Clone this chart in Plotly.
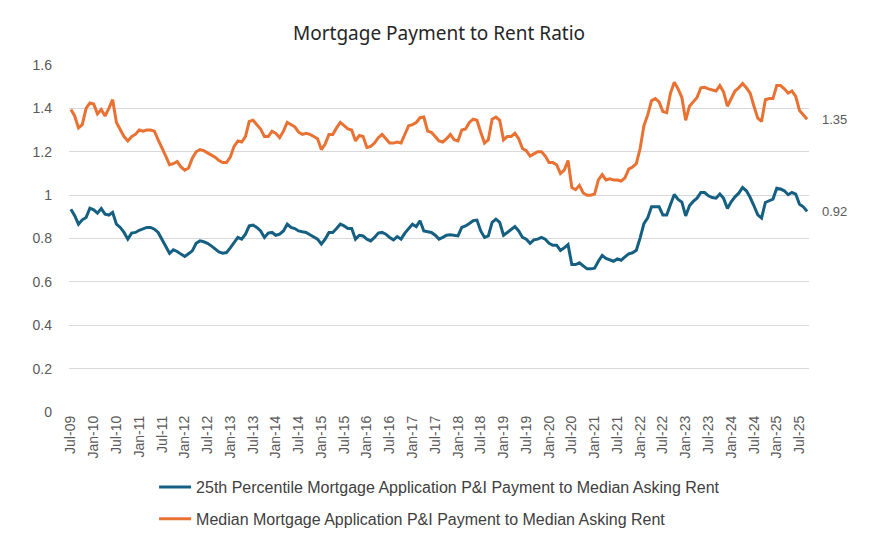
import plotly.graph_objects as go

# Monthly categories Jul-09 .. Sep-25
month_names = ["Jan", "Feb", "Mar", "Apr", "May", "Jun", "Jul", "Aug", "Sep", "Oct", "Nov", "Dec"]
categories = []
y, m = 2009, 6
while (y, m) <= (2025, 8):
    categories.append(f"{month_names[m]}-{y % 100:02d}")
    m += 1
    if m == 12:
        m = 0
        y += 1

tick_labels = [c for c in categories if c.startswith("Jan") or c.startswith("Jul")]

p25_ratio = [
    0.935, 0.905, 0.866, 0.886, 0.897, 0.940, 0.932, 0.917, 0.938, 0.912,
    0.908, 0.920, 0.866, 0.851, 0.828, 0.797, 0.825, 0.828, 0.838, 0.846,
    0.851, 0.851, 0.843, 0.828, 0.797, 0.766, 0.732, 0.748, 0.740, 0.728,
    0.717, 0.730, 0.743, 0.778, 0.789, 0.785, 0.778, 0.766, 0.754, 0.738,
    0.732, 0.735, 0.757, 0.780, 0.805, 0.797, 0.820, 0.858, 0.862, 0.851,
    0.835, 0.805, 0.825, 0.828, 0.815, 0.820, 0.835, 0.866, 0.851, 0.846,
    0.835, 0.831, 0.828, 0.817, 0.807, 0.797, 0.774, 0.797, 0.828, 0.828,
    0.846, 0.866, 0.858, 0.846, 0.846, 0.797, 0.815, 0.812, 0.797, 0.789,
    0.805, 0.825, 0.828, 0.820, 0.805, 0.794, 0.809, 0.797, 0.825, 0.846,
    0.866, 0.855, 0.882, 0.835, 0.831, 0.828, 0.815, 0.797, 0.805, 0.815,
    0.817, 0.815, 0.812, 0.851, 0.858, 0.869, 0.882, 0.885, 0.835, 0.805,
    0.812, 0.874, 0.889, 0.874, 0.815, 0.828, 0.843, 0.855, 0.835, 0.805,
    0.797, 0.778, 0.794, 0.797, 0.805, 0.797, 0.778, 0.769, 0.769, 0.745,
    0.757, 0.772, 0.680, 0.680, 0.688, 0.672, 0.660, 0.660, 0.663, 0.695,
    0.722, 0.708, 0.700, 0.695, 0.706, 0.700, 0.715, 0.729, 0.734, 0.746,
    0.803, 0.869, 0.895, 0.946, 0.946, 0.946, 0.908, 0.908, 0.957, 1.003,
    0.980, 0.968, 0.904, 0.951, 0.971, 0.986, 1.012, 1.012, 0.997, 0.989,
    0.986, 1.005, 0.985, 0.938, 0.969, 0.992, 1.009, 1.035, 1.020, 0.989,
    0.951, 0.909, 0.894, 0.966, 0.974, 0.982, 1.032, 1.028, 1.020, 1.002,
    1.012, 1.005, 0.958, 0.946, 0.925,
]

median_ratio = [
    1.395, 1.365, 1.310, 1.325, 1.400, 1.425, 1.420, 1.375, 1.395, 1.365,
    1.400, 1.440, 1.335, 1.305, 1.270, 1.250, 1.270, 1.280, 1.300, 1.295,
    1.300, 1.300, 1.295, 1.255, 1.220, 1.180, 1.140, 1.145, 1.155, 1.130,
    1.115, 1.125, 1.170, 1.200, 1.210, 1.205, 1.195, 1.185, 1.175, 1.160,
    1.150, 1.150, 1.175, 1.225, 1.250, 1.245, 1.270, 1.340, 1.345, 1.325,
    1.305, 1.270, 1.270, 1.295, 1.285, 1.265, 1.295, 1.335, 1.325, 1.315,
    1.290, 1.280, 1.285, 1.280, 1.270, 1.260, 1.210, 1.235, 1.280, 1.280,
    1.310, 1.335, 1.320, 1.305, 1.300, 1.250, 1.275, 1.270, 1.220, 1.225,
    1.240, 1.265, 1.280, 1.260, 1.240, 1.240, 1.245, 1.240, 1.280, 1.320,
    1.325, 1.335, 1.357, 1.360, 1.295, 1.290, 1.270, 1.250, 1.245, 1.260,
    1.280, 1.255, 1.250, 1.300, 1.305, 1.335, 1.350, 1.345, 1.290, 1.240,
    1.255, 1.350, 1.360, 1.345, 1.255, 1.270, 1.270, 1.285, 1.260, 1.215,
    1.205, 1.180, 1.190, 1.200, 1.200, 1.180, 1.150, 1.150, 1.140, 1.100,
    1.115, 1.160, 1.035, 1.025, 1.045, 1.010, 1.000, 1.000, 1.005, 1.070,
    1.095, 1.070, 1.075, 1.070, 1.070, 1.065, 1.080, 1.120, 1.130, 1.145,
    1.215, 1.320, 1.370, 1.435, 1.445, 1.430, 1.385, 1.380, 1.470, 1.520,
    1.490, 1.450, 1.345, 1.410, 1.430, 1.450, 1.495, 1.497, 1.490, 1.485,
    1.480, 1.505, 1.475, 1.410, 1.445, 1.480, 1.495, 1.515, 1.495, 1.470,
    1.410, 1.355, 1.340, 1.440, 1.445, 1.445, 1.505, 1.505, 1.490, 1.470,
    1.480, 1.455, 1.390, 1.370, 1.350,
]

name_p25 = "25th Percentile Mortgage Application P&I Payment to Median Asking Rent"
name_med = "Median Mortgage Application P&I Payment to Median Asking Rent"
end_labels = ["0.92", "1.35"]

BLUE = "#156082"
ORANGE = "#E97132"
FONT = "Liberation Sans, Arial, sans-serif"

# The page body adds an 8 px offset, so the figure is 8 px smaller
# and the margins are shifted to keep the absolute positions.
W, H = 875, 531

fig = go.Figure()
fig.add_trace(go.Scatter(x=categories, y=p25_ratio, mode="lines", name=name_p25,
                         line=dict(color=BLUE, width=3), legendgroup="a"))
fig.add_trace(go.Scatter(x=categories, y=median_ratio, mode="lines", name=name_med,
                         line=dict(color=ORANGE, width=3), legendgroup="b"))

for series, lab in ((p25_ratio, end_labels[0]), (median_ratio, end_labels[1])):
    fig.add_annotation(x=categories[-1], y=series[-1], text=lab, showarrow=False,
                       xanchor="left", xshift=13, font=dict(size=13, color="#595959", family=FONT))

fig.update_layout(
    width=W, height=H,
    margin=dict(l=61, r=74, t=57, b=127),
    paper_bgcolor="white", plot_bgcolor="white",
    font=dict(family=FONT, color="#595959"),
    title=dict(text="Mortgage Payment to Rent Ratio", x=0.5, xanchor="center",
               xref="paper", y=1 - 25 / H, yanchor="middle",
               font=dict(size=19, color="#262626", family="Noto Sans, sans-serif")),
    showlegend=True,
    legend=dict(orientation="v", x=0.115, xanchor="left",
                yref="container", y=1 - 462 / H, yanchor="top",
                font=dict(size=16, color="#404040", family=FONT),
                traceorder="grouped", tracegroupgap=8, itemwidth=32,
                bgcolor="rgba(0,0,0,0)"),
)
fig.update_xaxes(type="category", range=[-0.5, len(categories) - 0.5],
                 tickmode="array", tickvals=tick_labels, ticktext=tick_labels,
                 tickangle=-90, showgrid=False, showline=False, ticks="",
                 automargin=False,
                 tickfont=dict(size=14, color="#595959", family=FONT))
fig.update_yaxes(range=[0, 1.6], tickvals=[0, 0.2, 0.4, 0.6, 0.8, 1.0, 1.2, 1.4, 1.6],
                 ticktext=["0", "0.2", "0.4", "0.6", "0.8", "1", "1.2", "1.4", "1.6"],
                 showgrid=True, gridcolor="#D9D9D9", gridwidth=1, zeroline=False,
                 showline=False, ticks="", ticklabelstandoff=16, automargin=False,
                 tickfont=dict(size=14, color="#595959", family=FONT))

fig.write_html("out.html")
